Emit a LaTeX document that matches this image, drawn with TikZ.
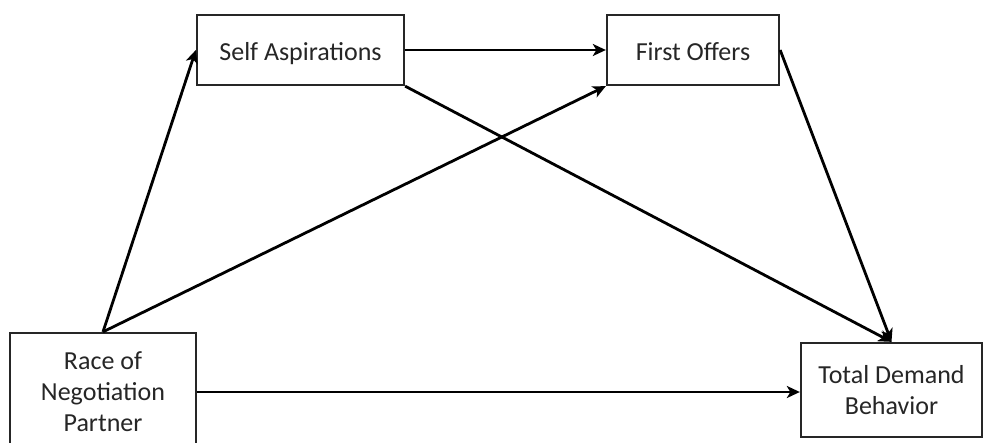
\documentclass[tikz,border=0pt]{standalone}
\usepackage{fontspec}
\setmainfont{Carlito}
\usetikzlibrary{arrows.meta}
\begin{document}
\begin{tikzpicture}[x=1pt,y=-1pt,
  varbox/.style={draw=black!85, line width=2.3pt, fill=white, text=black!85,
    inner sep=0pt, align=center, font=\fontsize{26}{31}\selectfont},
  path/.style={draw=black, line width=2.8pt,
    -{Stealth[length=13pt,width=12pt,inset=3.5pt]}}]
\useasboundingbox (0,0) rectangle (984,442);
\fill[white] (0,0) rectangle (984,442);

% variables of the model (single-line labels sit on a baseline 10pt below centre)
\node[varbox, minimum width=207pt, minimum height=70pt] (self) at (300.5,50) {\raisebox{-10pt}[0pt][0pt]{Self Aspirations}};
\node[varbox, minimum width=172pt, minimum height=70pt] (first) at (693,50) {\raisebox{-10pt}[0pt][0pt]{First Offers}};
\node[varbox, minimum width=186pt, minimum height=118pt] (race) at (103,392) {Race of\\Negotiation\\Partner};
\node[varbox, minimum width=181pt, minimum height=94pt] (total) at (891.5,390) {Total Demand\\Behavior};

% hypothesised paths
\draw[path] (race.north) -- (self.west);
\draw[path] (race.north) -- (first.south west);
\draw[path] (self.east) -- (first.west);
\draw[path] (self.south east) -- (total.north);
\draw[path] (first.east) -- (total.north);
\draw[path] (race.east) -- (race.east -| total.west);
\end{tikzpicture}
\end{document}
